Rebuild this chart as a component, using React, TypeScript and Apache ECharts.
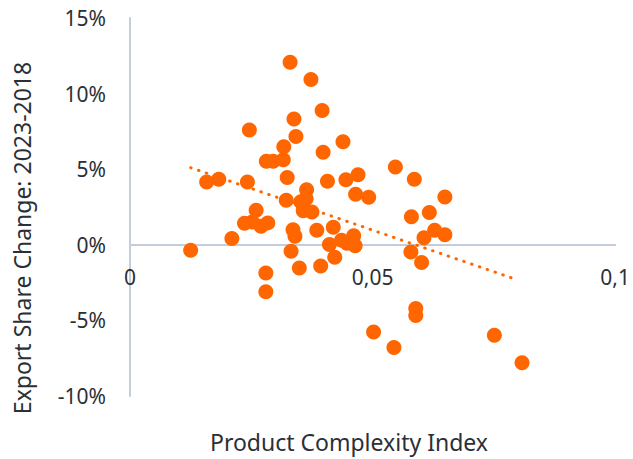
import React, { useEffect, useRef } from "react";
import * as echarts from "echarts";

const complexity: number[] = [
  0.033, 0.0373, 0.0396, 0.0338, 0.0342, 0.0246, 0.0439, 0.0317, 0.0398, 0.0281,
  0.0295, 0.0316, 0.0324, 0.0407, 0.0445, 0.047, 0.0465, 0.0492, 0.0547, 0.0586,
  0.0649, 0.0158, 0.0183, 0.0242, 0.0364, 0.0363, 0.0352, 0.0357, 0.0375, 0.0322,
  0.026, 0.0236, 0.027, 0.0284, 0.0252, 0.021, 0.0125, 0.0336, 0.034, 0.0332,
  0.028, 0.028, 0.0349, 0.0393, 0.0385, 0.0419, 0.0411, 0.0422, 0.0436, 0.0447,
  0.0461, 0.0464, 0.058, 0.0617, 0.0628, 0.0649, 0.0606, 0.0579, 0.0601, 0.0589,
  0.0589, 0.0502, 0.0544, 0.0751, 0.0808,
];

const shareChange: number[] = [
  12.08, 10.94, 8.89, 8.32, 7.17, 7.6, 6.82, 6.48, 6.12, 5.52,
  5.52, 5.62, 4.45, 4.2, 4.31, 4.64, 3.34, 3.14, 5.15, 4.33,
  3.16, 4.15, 4.33, 4.15, 3.64, 3.04, 2.85, 2.25, 2.17, 2.95,
  2.29, 1.43, 1.23, 1.45, 1.51, 0.42, -0.36, 1.0, 0.57, -0.42,
  -1.86, -3.11, -1.53, -1.41, 0.96, 1.16, 0.02, -0.82, 0.3, 0.11,
  0.6, -0.06, 1.86, 2.13, 0.96, 0.67, 0.46, -0.47, -1.17, -4.21,
  -4.67, -5.77, -6.8, -5.99, -7.8,
];

const trendX: number[] = [0.0125, 0.0797];
const trendY: number[] = [5.1, -2.3];

const xTicks = { min: 0, max: 0.1, interval: 0.05 };
const yTicks = { min: -10, max: 15, interval: 5 };

const xName = "Product Complexity Index";
const yName = "Export Share Change: 2023-2018";

const FONT = "'Noto Sans', 'Open Sans', sans-serif";
const TEXT = "#2b2f36";
const ORANGE = "#ff6600";
const AXIS = "#c3cddc";

export default function App() {
  const ref = useRef<HTMLDivElement>(null);

  useEffect(() => {
    document.body.style.margin = "0";
    if (!ref.current) return;
    const chart = echarts.init(ref.current, undefined, { renderer: "svg" });
    const points = complexity.map((x, i) => [x, shareChange[i]]);
    const trend = trendX.map((x, i) => [x, trendY[i]]);
    chart.setOption({
      animation: false,
      grid: { left: 130, right: 15, top: 18, bottom: 63, containLabel: false },
      xAxis: {
        type: "value",
        min: xTicks.min,
        max: xTicks.max,
        interval: xTicks.interval,
        axisLine: { show: true, onZero: true, lineStyle: { color: AXIS, width: 2 } },
        axisTick: { show: false },
        splitLine: { show: false },
        axisLabel: {
          margin: -130,
          fontSize: 21,
          fontFamily: FONT,
          color: TEXT,
          formatter: (v: number) => String(v).replace(".", ","),
        },
      },
      yAxis: {
        type: "value",
        min: yTicks.min,
        max: yTicks.max,
        interval: yTicks.interval,
        axisLine: { show: true, onZero: false, lineStyle: { color: AXIS, width: 2 } },
        axisTick: { show: false },
        splitLine: { show: false },
        axisLabel: {
          margin: 24,
          fontSize: 21,
          fontFamily: FONT,
          color: TEXT,
          formatter: "{value}%",
        },
      },
      graphic: [
        {
          type: "text",
          x: 22,
          y: 238,
          rotation: Math.PI / 2,
          style: {
            text: yName,
            fontSize: 23,
            fontFamily: FONT,
            fill: TEXT,
            textAlign: "center",
            textVerticalAlign: "middle",
          },
        },
        {
          type: "text",
          x: 349,
          y: 442,
          style: {
            text: xName,
            fontSize: 23,
            fontFamily: FONT,
            fill: TEXT,
            textAlign: "center",
            textVerticalAlign: "middle",
          },
        },
      ],
      series: [
        {
          type: "line",
          data: trend,
          symbol: "none",
          z: 1,
          lineStyle: { color: ORANGE, width: 3, type: [0.5, 7.75], cap: "round" },
        },
        {
          type: "scatter",
          data: points,
          symbol: "circle",
          symbolSize: 15,
          z: 2,
          itemStyle: { color: ORANGE, opacity: 1 },
        },
      ],
    });
    return () => chart.dispose();
  }, []);

  return <div ref={ref} style={{ width: 633, height: 459 }} />;
}
